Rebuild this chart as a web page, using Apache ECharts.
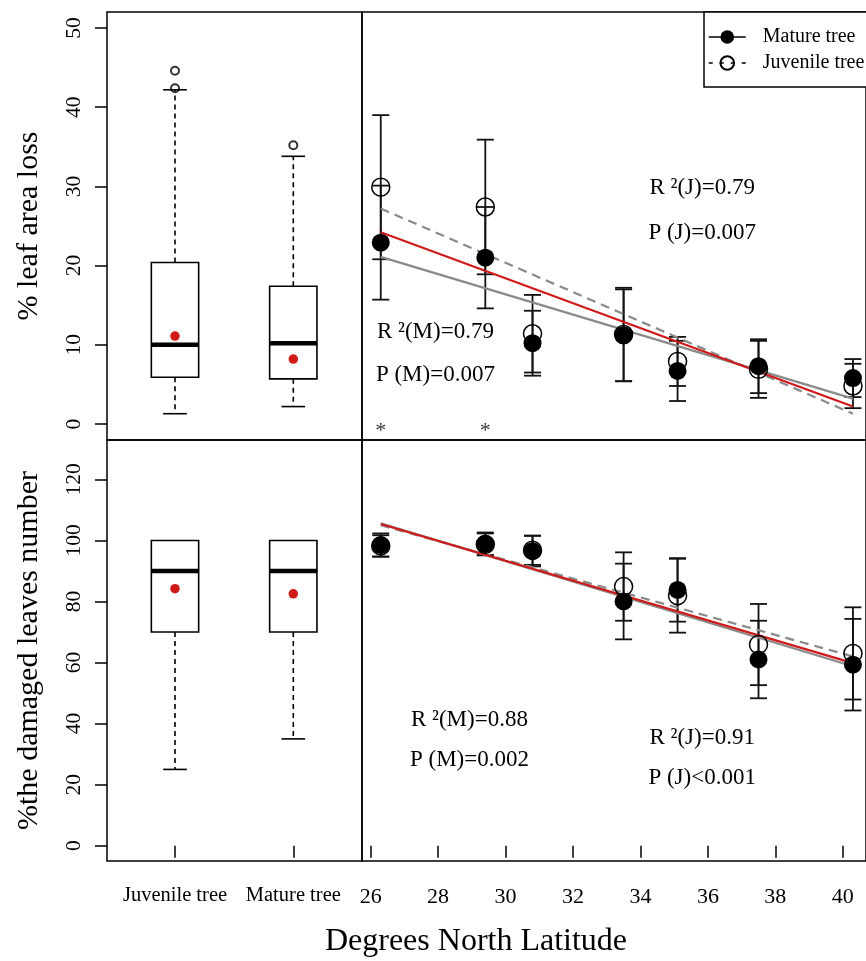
<!DOCTYPE html>
<html><head><meta charset="utf-8">
<script src="https://cdn.jsdelivr.net/npm/echarts@6/dist/echarts.min.js"></script>
<style>html,body{margin:0;padding:0;background:#fff}#c{width:866px;height:961px}</style>
</head><body><div id="c"></div>
<script>
// ---------- data ----------
const groups = ['Juvenile tree', 'Mature tree'];
const groupPos = [1, 2];
// boxplot stats: [min, Q1, median, Q3, max]
const leafLossBox = [[1.3, 5.9, 10.0, 20.4, 42.2], [2.2, 5.7, 10.2, 17.4, 33.8]];
const leafLossOutliers = [[1, 42.4], [1, 44.6], [2, 35.2]];
const leafLossMeans = [11.1, 8.2];
const damagedBox = [[25, 70, 90, 100, 100], [35, 70, 90, 100, 100]];
const damagedMeans = [84.2, 82.5];

const latitude = [26.3, 29.4, 30.8, 33.5, 35.1, 37.5, 40.3];
const lossMature = [22.9, 21.0, 10.2, 11.2, 6.7, 7.3, 5.8];
const lossMatureErr = [7.2, 6.4, 4.1, 5.8, 3.8, 3.4, 2.4];
const lossJuvenile = [29.9, 27.4, 11.4, 11.3, 7.9, 6.9, 4.8];
const lossJuvenileErr = [9.1, 8.5, 4.9, 5.9, 3.1, 3.6, 2.8];
const damMature = [98.5, 98.9, 96.5, 80.0, 83.8, 61.0, 59.3];
const damMatureErr = [3.8, 3.7, 5.0, 12.4, 10.4, 12.7, 15.0];
const damJuvenile = [98.2, 98.7, 96.8, 84.9, 81.9, 65.9, 63.0];
const damJuvenileErr = [3.5, 3.6, 4.8, 11.2, 12.1, 13.3, 15.1];

const fitX = [26.3, 40.3];
const lossFitRed = [24.2, 2.2];
const lossFitGrey = [21.1, 3.2];
const lossFitDash = [27.2, 1.3];
const damFitRed = [105.4, 59.8];
const damFitGrey = [105.6, 58.8];
const damFitDash = [105.0, 62.0];

const lossTicks = [0, 10, 20, 30, 40, 50];
const damTicks = [0, 20, 40, 60, 80, 100, 120];
const latTicks = [26, 28, 30, 32, 34, 36, 38, 40];

const lossNotes = [[35.83, 29.8, 'R ²(J)=0.79'], [35.83, 24.1, 'P (J)=0.007'],
                   [27.92, 11.65, 'R ²(M)=0.79'], [27.92, 6.2, 'P (M)=0.007']];
const damNotes = [[28.93, 41.2, 'R ²(M)=0.88'], [28.93, 28.1, 'P (M)=0.002'],
                  [35.83, 35.2, 'R ²(J)=0.91'], [35.83, 22.1, 'P (J)<0.001']];
const starMarks = [[26.3, -0.3], [29.4, -0.3]];

// ---------- helpers ----------
const FONT = 'Liberation Serif';
const BLACK = '#000';
const RED = '#d01a1a';
const GREY = '#8a8a8a';

function errData(m, e) { return latitude.map((x, i) => [x, m[i] - e[i], m[i] + e[i]]); }
function ptData(m) { return latitude.map((x, i) => [x, m[i]]); }
function fitData(y) { return fitX.map((x, i) => [x, y[i]]); }

function errRender(params, api) {
  const x = api.value(0), lo = api.value(1), hi = api.value(2);
  const a = api.coord([x, lo]), b = api.coord([x, hi]);
  const hw = 8.5;
  const st = { stroke: '#111', lineWidth: 1.8 };
  return { type: 'group', children: [
    { type: 'line', shape: { x1: a[0], y1: a[1], x2: b[0], y2: b[1] }, style: st },
    { type: 'line', shape: { x1: a[0] - hw, y1: a[1], x2: a[0] + hw, y2: a[1] }, style: st },
    { type: 'line', shape: { x1: b[0] - hw, y1: b[1], x2: b[0] + hw, y2: b[1] }, style: st }
  ]};
}

function boxRender(params, api) {
  const x = api.value(0);
  const mn = api.value(1), q1 = api.value(2), md = api.value(3), q3 = api.value(4), mx = api.value(5);
  const w = api.size([0.4, 0])[0], hw = w / 2, cw = w / 4;
  const pMn = api.coord([x, mn]), pQ1 = api.coord([x, q1]), pMd = api.coord([x, md]),
        pQ3 = api.coord([x, q3]), pMx = api.coord([x, mx]);
  const cx = pQ1[0];
  const solid = { stroke: BLACK, lineWidth: 1.6, fill: null };
  const dashed = { stroke: BLACK, lineWidth: 1.6, lineDash: [5, 4] };
  const ch = [];
  if (mx > q3) {
    ch.push({ type: 'line', shape: { x1: cx, y1: pQ3[1], x2: cx, y2: pMx[1] }, style: dashed });
    ch.push({ type: 'line', shape: { x1: cx - cw, y1: pMx[1], x2: cx + cw, y2: pMx[1] }, style: solid });
  }
  if (mn < q1) {
    ch.push({ type: 'line', shape: { x1: cx, y1: pQ1[1], x2: cx, y2: pMn[1] }, style: dashed });
    ch.push({ type: 'line', shape: { x1: cx - cw, y1: pMn[1], x2: cx + cw, y2: pMn[1] }, style: solid });
  }
  ch.push({ type: 'rect', shape: { x: cx - hw, y: pQ3[1], width: w, height: pQ1[1] - pQ3[1] },
            style: { stroke: BLACK, lineWidth: 1.6, fill: 'rgba(0,0,0,0)' } });
  ch.push({ type: 'line', shape: { x1: cx - hw, y1: pMd[1], x2: cx + hw, y2: pMd[1] },
            style: { stroke: BLACK, lineWidth: 4.5 } });
  return { type: 'group', children: ch };
}

const tickStyle = { show: true, length: 12, lineStyle: { color: BLACK, width: 1.5 } };
const gridBase = { show: true, borderColor: BLACK, borderWidth: 1.5, backgroundColor: 'rgba(0,0,0,0)', containLabel: false };

function noteSeries(notes, xi) {
  return {
    type: 'scatter', xAxisIndex: xi, yAxisIndex: xi, symbolSize: 1, silent: true,
    itemStyle: { color: 'rgba(0,0,0,0)' },
    data: notes.map(n => ({ value: [n[0], n[1]], name: n[2] })),
    label: { show: true, position: 'inside', formatter: '{b}', fontFamily: FONT, fontSize: 23,
             color: '#000', textBorderWidth: 0, opacity: 1 }
  };
}

const option = {
  animation: false,
  backgroundColor: '#fff',
  title: { text: 'Degrees North Latitude', left: 476, top: 926, textAlign: 'center', padding: 0,
           textStyle: { fontFamily: FONT, fontSize: 32, fontWeight: 'normal', color: BLACK } },
  legend: {
    orient: 'vertical', left: 704, top: 12, padding: [15, 40, 14, 4], itemGap: 6,
    itemWidth: 37, itemHeight: 17, borderColor: BLACK, borderWidth: 1.5, borderRadius: 0,
    backgroundColor: '#fff', selectedMode: false,
    textStyle: { fontFamily: FONT, fontSize: 20, color: BLACK, padding: [0, 0, 0, 12] },
    data: [
      { name: 'Mature tree', lineStyle: { color: BLACK, width: 1.5, type: 'solid', opacity: 1 } },
      { name: 'Juvenile tree', lineStyle: { color: BLACK, width: 1.5, type: [4, 7], opacity: 1 } }
    ]
  },
  grid: [
    Object.assign({ left: 107, top: 12, width: 255, height: 428 }, gridBase),
    Object.assign({ left: 362, top: 12, right: -3, height: 428 }, gridBase),
    Object.assign({ left: 107, top: 440, width: 255, height: 421 }, gridBase),
    Object.assign({ left: 362, top: 440, right: -3, height: 421 }, gridBase)
  ],
  xAxis: [
    { gridIndex: 0, type: 'value', min: 0.4252, max: 2.5807, show: false },
    { gridIndex: 1, type: 'value', min: 25.744, max: 40.687, show: false },
    { gridIndex: 2, type: 'value', min: 0.4252, max: 2.5807,
      axisLine: { show: false }, splitLine: { show: false },
      axisTick: Object.assign({ customValues: groupPos }, tickStyle),
      axisLabel: { customValues: groupPos, margin: 24, fontFamily: FONT, fontSize: 20.5, color: BLACK,
                   formatter: v => groups[groupPos.indexOf(v)] } },
    { gridIndex: 3, type: 'value', min: 25.744, max: 40.687,
      axisLine: { show: false }, splitLine: { show: false },
      axisTick: Object.assign({ customValues: latTicks }, tickStyle),
      axisLabel: { customValues: latTicks, margin: 25, fontFamily: FONT, fontSize: 22, color: BLACK } }
  ],
  yAxis: [
    { gridIndex: 0, type: 'value', min: -2.02, max: 52.02,
      axisLine: { show: false }, splitLine: { show: false },
      axisTick: Object.assign({ customValues: lossTicks }, tickStyle),
      axisLabel: { customValues: lossTicks, rotate: 90, margin: 22, fontFamily: FONT, fontSize: 21.5, color: BLACK },
      name: '% leaf area loss', nameLocation: 'middle', nameRotate: 90, nameGap: 63,
      nameTextStyle: { fontFamily: FONT, fontSize: 30, color: BLACK } },
    { gridIndex: 1, type: 'value', min: -2.02, max: 52.02, show: false },
    { gridIndex: 2, type: 'value', min: -5.0, max: 132.9,
      axisLine: { show: false }, splitLine: { show: false },
      axisTick: Object.assign({ customValues: damTicks }, tickStyle),
      axisLabel: { customValues: damTicks, rotate: 90, margin: 22, fontFamily: FONT, fontSize: 21.5, color: BLACK },
      name: '%the damaged leaves number', nameLocation: 'middle', nameRotate: 90, nameGap: 63,
      nameTextStyle: { fontFamily: FONT, fontSize: 30, color: BLACK } },
    { gridIndex: 3, type: 'value', min: -5.0, max: 132.9, show: false }
  ],
  series: [
    // ----- top-left boxplot -----
    { type: 'custom', xAxisIndex: 0, yAxisIndex: 0, renderItem: boxRender, silent: true,
      data: groupPos.map((x, i) => [x].concat(leafLossBox[i])) },
    { type: 'scatter', xAxisIndex: 0, yAxisIndex: 0, symbol: 'circle', symbolSize: 8, silent: true,
      itemStyle: { color: 'rgba(0,0,0,0)', borderColor: BLACK, borderWidth: 2 }, data: leafLossOutliers },
    { type: 'scatter', xAxisIndex: 0, yAxisIndex: 0, symbol: 'circle', symbolSize: 9.5, silent: true,
      itemStyle: { color: RED, opacity: 1 }, data: groupPos.map((x, i) => [x, leafLossMeans[i]]) },
    // ----- bottom-left boxplot -----
    { type: 'custom', xAxisIndex: 2, yAxisIndex: 2, renderItem: boxRender, silent: true,
      data: groupPos.map((x, i) => [x].concat(damagedBox[i])) },
    { type: 'scatter', xAxisIndex: 2, yAxisIndex: 2, symbol: 'circle', symbolSize: 9.5, silent: true,
      itemStyle: { color: RED, opacity: 1 }, data: groupPos.map((x, i) => [x, damagedMeans[i]]) },

    // ----- top-right -----
    { type: 'custom', xAxisIndex: 1, yAxisIndex: 1, renderItem: errRender, silent: true, data: errData(lossJuvenile, lossJuvenileErr) },
    { type: 'custom', xAxisIndex: 1, yAxisIndex: 1, renderItem: errRender, silent: true, data: errData(lossMature, lossMatureErr) },
    { name: 'Juvenile tree', type: 'line', xAxisIndex: 1, yAxisIndex: 1, symbol: 'circle', symbolSize: 18, showSymbol: true,
      lineStyle: { opacity: 0 }, itemStyle: { color: 'rgba(0,0,0,0)', borderColor: BLACK, borderWidth: 1.5 },
      silent: true, data: ptData(lossJuvenile) },
    { name: 'Mature tree', type: 'line', xAxisIndex: 1, yAxisIndex: 1, symbol: 'circle', symbolSize: 18, showSymbol: true,
      lineStyle: { opacity: 0 }, itemStyle: { color: BLACK }, silent: true, data: ptData(lossMature) },
    { type: 'line', xAxisIndex: 1, yAxisIndex: 1, symbol: 'none', silent: true,
      lineStyle: { color: GREY, width: 2.2 }, data: fitData(lossFitGrey) },
    { type: 'line', xAxisIndex: 1, yAxisIndex: 1, symbol: 'none', silent: true,
      lineStyle: { color: GREY, width: 2.2, type: [9, 6] }, data: fitData(lossFitDash) },
    { type: 'line', xAxisIndex: 1, yAxisIndex: 1, symbol: 'none', silent: true,
      lineStyle: { color: RED, width: 2.2 }, data: fitData(lossFitRed) },
    noteSeries(lossNotes, 1),
    { type: 'scatter', xAxisIndex: 1, yAxisIndex: 1, symbolSize: 1, silent: true,
      itemStyle: { color: 'rgba(0,0,0,0)' }, data: starMarks,
      label: { show: true, position: 'inside', formatter: '*', offset: [0, 5], fontFamily: FONT, fontSize: 22,
               color: '#000', textBorderWidth: 0 } },

    // ----- bottom-right -----
    { type: 'custom', xAxisIndex: 3, yAxisIndex: 3, renderItem: errRender, silent: true, data: errData(damJuvenile, damJuvenileErr) },
    { type: 'custom', xAxisIndex: 3, yAxisIndex: 3, renderItem: errRender, silent: true, data: errData(damMature, damMatureErr) },
    { name: 'Juvenile tree', type: 'line', xAxisIndex: 3, yAxisIndex: 3, symbol: 'circle', symbolSize: 18, showSymbol: true,
      lineStyle: { opacity: 0 }, itemStyle: { color: 'rgba(0,0,0,0)', borderColor: BLACK, borderWidth: 1.5 },
      silent: true, data: ptData(damJuvenile) },
    { name: 'Mature tree', type: 'line', xAxisIndex: 3, yAxisIndex: 3, symbol: 'circle', symbolSize: 18, showSymbol: true,
      lineStyle: { opacity: 0 }, itemStyle: { color: BLACK }, silent: true, data: ptData(damMature) },
    { type: 'line', xAxisIndex: 3, yAxisIndex: 3, symbol: 'none', silent: true,
      lineStyle: { color: GREY, width: 2.2 }, data: fitData(damFitGrey) },
    { type: 'line', xAxisIndex: 3, yAxisIndex: 3, symbol: 'none', silent: true,
      lineStyle: { color: GREY, width: 2.2, type: [9, 6] }, data: fitData(damFitDash) },
    { type: 'line', xAxisIndex: 3, yAxisIndex: 3, symbol: 'none', silent: true,
      lineStyle: { color: RED, width: 2.2 }, data: fitData(damFitRed) },
    noteSeries(damNotes, 3)
  ]
};

const chart = echarts.init(document.getElementById('c'), null, { renderer: 'canvas' });
chart.setOption(option);
</script>
</body></html>
